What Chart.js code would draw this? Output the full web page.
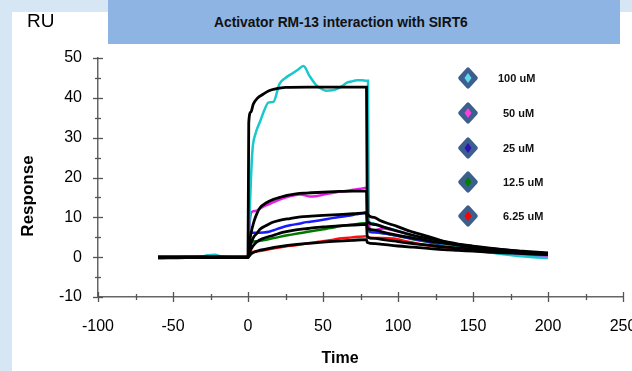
<!DOCTYPE html>
<html>
<head>
<meta charset="utf-8">
<script src="https://cdn.jsdelivr.net/npm/chart.js@4.4.1/dist/chart.umd.min.js"></script>
<style>
  html, body { margin: 0; padding: 0; }
  #wrap { position: relative; width: 632px; height: 371px; background: #d7e6f4; overflow: hidden; font-family: "Liberation Sans", Arial, sans-serif; }
  #panel { position: absolute; left: 12px; top: 12px; width: 620px; height: 359px; background: #ffffff; }
  #c { position: absolute; left: 0; top: 0; }
  #titlebox { position: absolute; left: 108px; top: 0; width: 512px; height: 44px; background: #8db4e2; }
  #titletext { position: absolute; left: 214px; top: 22px; transform: translateY(-50%); font: bold 13.8px "Liberation Sans", Arial, sans-serif; color: #111; white-space: nowrap; }
  #ru { position: absolute; left: 27px; top: 10px; font: 19px "Liberation Sans", Arial, sans-serif; color: #000; }
  #ytitle { position: absolute; left: 28px; top: 196px; transform: translate(-50%, -50%) rotate(-90deg); font: bold 17px "Liberation Sans", Arial, sans-serif; white-space: nowrap; }
  #xtitle { position: absolute; left: 340px; top: 358px; transform: translate(-50%, -50%); font: bold 16px "Liberation Sans", Arial, sans-serif; white-space: nowrap; }
  .dia { position: absolute; width: 15px; height: 15px; background: #3d5f8d; border-radius: 2px; transform: translate(-50%, -50%) scaleY(1.08) rotate(45deg); }
  .inner { position: absolute; width: 5px; height: 5px; transform: translate(-50%, -50%) scaleY(1.4) rotate(45deg); }
  .lgt { position: absolute; transform: translateY(-50%); font: bold 11px "Liberation Sans", Arial, sans-serif; color: #111; white-space: nowrap; }
</style>
</head>
<body>
<div id="wrap">
  <div id="panel"></div>
  <canvas id="c" width="632" height="371"></canvas>
  <div id="titlebox"></div>
  <div id="titletext">Activator RM-13 interaction with SIRT6</div>
  <div id="ru">RU</div>
  <div id="ytitle">Response</div>
  <div id="xtitle">Time</div>
  <div id="legend"></div>
</div>
<script>
// ---- data ----
const seriesLabels = ['100 uM', '50 uM', '25 uM', '12.5 uM', '6.25 uM'];
const xTickValues = [-100, -50, 0, 50, 100, 150, 200, 250];
const yTickValues = [-10, 0, 10, 20, 30, 40, 50];

// measured response curves
const t100 = [-60,-50,-40,-30,-27,-22,-18,-10,-2,0,1,2,3,5,8,11,13.5,17,21,25,29,33,37,41,45,48,52,56,59,63,66,70,72.5,76,79,80,80.5,83,86,90,100,110,121,130,143,155,166,180,190,200];
const v100 = [0,0,0.1,0.2,0.5,0.6,0.2,0,0,0,10,20,27,31,34,37,38.8,39,43.5,45,46,47,48,45.5,43.4,42.5,41.8,41.9,42.2,43,43.8,44.2,44.4,44.4,44.3,44.3,9,8.5,8,7.6,6.6,5.4,4.3,3.3,2.2,1.5,0.9,0.3,0,-0.2];

const t50 = [-60,-50,-40,-30,-20,-10,0,0.5,1.5,2.4,5,8,12,17,22,26,30,35,41,45,48,53,59,65,70,75,79,80,80.5,81,84,87,90,97,105,112,119,130,140,150,160,170,180,190,200];
const v50 = [-0.3,-0.3,-0.1,0,0,0,0,5,10,11.3,11.6,12.2,13,13.8,14.6,15.1,15.5,15.75,15.25,15.3,15.5,15.9,16.3,16.6,16.9,17.2,17.4,17.4,10,7,6.7,7,7.2,6.75,6,5.1,4.3,3.4,2.6,2,1.4,1,0.6,0.3,0];

const t25 = [-60,-40,-20,0,0.5,1.5,2.4,6,10,14,17,22,28,34,39,45,50,56,61,67,72,76,79,80,81,85,90,100,110,120,130,140,150,160,170,180,190,200];
const v25 = [-0.2,0,0,0,4,6,6.1,6.1,6.2,6.4,6.75,7.4,8,8.4,8.8,9.1,9.4,9.8,10.1,10.4,10.75,11,11.3,11.3,6.5,6.3,6,5.4,4.6,3.9,3.2,2.6,2,1.5,1.1,0.8,0.6,0.4];

const t12 = [-60,-40,-20,0,0.5,2.4,6,10,15,21,28,34,39,45,50,55,61,67,73,79,80,81,85,90,100,110,120,130,140,150,160,170,180,190,200];
const v12 = [0,0,0,0,2.5,3.8,4,4.25,4.6,5.1,5.6,6,6.3,6.7,7,7.3,7.75,8.1,8.3,8.6,8.6,6.3,6.2,6,5.3,4.5,3.8,3.1,2.5,2,1.5,1.1,0.9,0.7,0.6];

const t6 = [-60,-40,-20,0,0.5,2.4,10,17,25,32,39,45,50,56,61,67,73,79,80,81,90,97,105,112,119,130,140,150,160,170,180,190,200];
const v6 = [-0.2,0,0,0,1,1.3,1.7,2.2,2.7,3,3.4,3.7,4,4.3,4.7,4.9,5.1,5.25,5.2,4.8,4.8,4.7,4,3.5,3,2.5,2,1.6,1.3,1,0.8,0.6,0.5];

// fitted curves (black)
const tf100 = [-60,0,0.5,2,3.5,6,10,14,19,25,40,60,79,79.5,84,88,94,99,105,110,121,130,143,155,166,180,190,200];
const vf100 = [0,0,33.8,36.5,38.4,39.8,40.9,41.8,42.3,42.6,42.7,42.7,42.7,10.9,10,9.2,8.4,7.8,6.9,6.3,5.1,4,3,2.3,1.75,1.2,0.9,0.7];

const tf50 = [-60,0,1,2,4,6,8,12,17,22,26,32,39,50,61,70,79,79.5,85,90,100,110,120,130,140,150,160,170,180,190,200];
const vf50 = [0,0,3.5,6,9,11,12.4,13.6,14.5,15.1,15.5,15.9,16.1,16.3,16.5,16.6,16.6,9,8.2,7.6,6.5,5.5,4.7,4,3.3,2.8,2.3,1.9,1.5,1.2,1];

const tf25 = [-60,0,1,2.5,4,5.8,8,12.4,16,21,28,35,42,50,60,70,79,79.5,85,90,100,110,120,130,140,150,160,170,180,190,200];
const vf25 = [0,0,2,4,5.2,5.9,7,8,8.7,9.25,9.7,10.1,10.3,10.5,10.7,10.9,11.1,7.3,6.8,6.3,5.5,4.8,4.1,3.5,3,2.6,2.2,1.9,1.6,1.3,1.1];

const tf12 = [-60,0,1,3,5.8,10,17,23,30,40,50,60,70,79,79.5,85,90,100,110,120,130,140,150,160,170,180,190,200];
const vf12 = [0,0,1.2,2.6,3.8,4.7,5.5,6.2,6.75,7.2,7.6,7.85,8.05,8.25,5,4.7,4.4,3.9,3.4,3,2.6,2.3,2,1.7,1.5,1.3,1.1,0.9];

const tf6 = [-60,0,2,5,8,15,22,28,38,50,60,70,79,79.5,85,90,100,110,120,130,140,150,160,170,180,190,200];
const vf6 = [0,0,0.8,1.4,1.75,2.3,2.7,3,3.4,3.8,4.05,4.25,4.4,3.7,3.4,3.2,2.8,2.5,2.2,1.9,1.7,1.5,1.3,1.1,0.95,0.8,0.7];

// ---- styles ----
const lineColors = ['#18c8cc', '#e81ee8', '#1a1aff', '#007800', '#ff1010'];
const legendInner = ['#5fd8f2', '#ff3ce0', '#2c12b8', '#008000', '#ff0000'];
const fitColor = '#000000';

function pts(ts, vs) { return ts.map((t, i) => ({ x: t, y: vs[i] })); }

const measured = [[t100, v100], [t50, v50], [t25, v25], [t12, v12], [t6, v6]];
const fits = [[tf100, vf100], [tf50, vf50], [tf25, vf25], [tf12, vf12], [tf6, vf6]];

const datasets = [];
measured.forEach((m, i) => {
  datasets.push({ label: seriesLabels[i], data: pts(m[0], m[1]), borderColor: lineColors[i], borderWidth: 2.5, pointRadius: 0, fill: false, cubicInterpolationMode: 'monotone', order: 2 });
});
fits.forEach((f, i) => {
  datasets.push({ label: 'fit ' + seriesLabels[i], data: pts(f[0], f[1]), borderColor: fitColor, borderWidth: 2.8, pointRadius: 0, fill: false, cubicInterpolationMode: 'monotone', order: 1 });
});

// legend (HTML)
const legendY = [78, 113, 148, 182, 216];
const legendTextX = [498, 503, 503, 503, 503];
const lg = document.getElementById('legend');
seriesLabels.forEach((lab, i) => {
  const d = document.createElement('div');
  d.className = 'dia'; d.style.left = '468px'; d.style.top = legendY[i] + 'px';
  lg.appendChild(d);
  const inn = document.createElement('div');
  inn.className = 'inner'; inn.style.left = '468px'; inn.style.top = legendY[i] + 'px'; inn.style.background = legendInner[i];
  lg.appendChild(inn);
  const t = document.createElement('div');
  t.className = 'lgt'; t.style.left = legendTextX[i] + 'px'; t.style.top = legendY[i] + 'px'; t.textContent = lab;
  lg.appendChild(t);
});

// crossing tick marks
const tickMarks = {
  id: 'tickMarks',
  afterDraw(chart) {
    const { ctx, scales: { x, y } } = chart;
    const x0 = x.getPixelForValue(x.min), y0 = y.getPixelForValue(y.min);
    ctx.save();
    ctx.strokeStyle = '#555';
    ctx.lineWidth = 1.3;
    for (let v = y.min; v <= y.max; v += 5) {
      const p = Math.round(y.getPixelForValue(v)) + 0.5;
      const l = (v % 10 === 0) ? 5 : 3;
      ctx.beginPath(); ctx.moveTo(x0 - l, p); ctx.lineTo(x0 + l, p); ctx.stroke();
    }
    for (let t = x.min; t <= x.max; t += 25) {
      const p = Math.round(x.getPixelForValue(t)) + 0.5;
      const l = (t % 50 === 0) ? 5 : 3;
      ctx.beginPath(); ctx.moveTo(p, y0 - l); ctx.lineTo(p, y0 + l); ctx.stroke();
    }
    ctx.restore();
  }
};

new Chart(document.getElementById('c'), {
  type: 'line',
  data: { datasets },
  options: {
    responsive: false,
    animation: false,
    devicePixelRatio: 1,
    layout: { padding: { left: 0, right: 9, top: 58, bottom: 0 } },
    plugins: { legend: { display: false }, tooltip: { enabled: false }, title: { display: false } },
    scales: {
      x: {
        type: 'linear', min: -100, max: 250,
        afterFit(s) { s.height = 74; s.paddingLeft = 0; s.paddingRight = 0; },
        afterBuildTicks(s) { s.ticks = xTickValues.map(v => ({ value: v })); },
        grid: { display: false, drawTicks: false },
        border: { display: true, color: '#666', width: 1.5 },
        ticks: { color: '#000', padding: 20, font: { family: '"Liberation Sans", Arial, sans-serif', size: 16 }, maxRotation: 0, autoSkip: false }
      },
      y: {
        type: 'linear', min: -10, max: 50,
        afterFit(s) { s.width = 98; s.paddingTop = 0; s.paddingBottom = 0; },
        afterBuildTicks(s) { s.ticks = yTickValues.map(v => ({ value: v })); },
        grid: { display: false, drawTicks: false },
        border: { display: true, color: '#666', width: 1.5 },
        ticks: { color: '#000', padding: 16, font: { family: '"Liberation Sans", Arial, sans-serif', size: 16 } }
      }
    }
  },
  plugins: [tickMarks]
});
</script>
</body>
</html>
